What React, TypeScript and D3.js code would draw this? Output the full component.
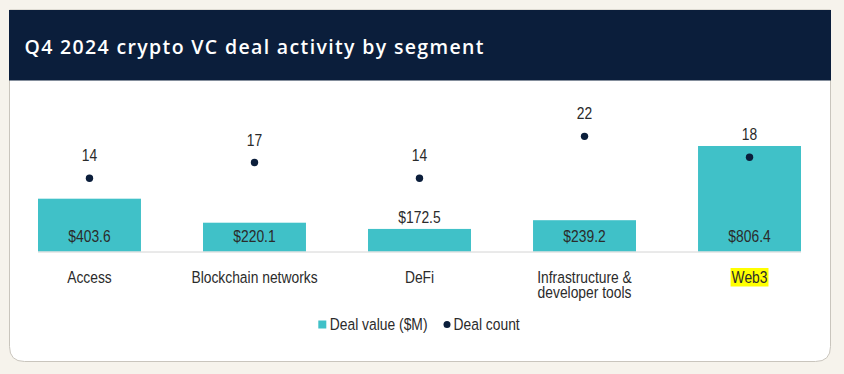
import React, { useEffect, useRef } from 'react';
import * as d3 from 'd3';

const W = 844;
const H = 374;

const segments = ['Access', 'Blockchain networks', 'DeFi', 'Infrastructure & developer tools', 'Web3'];
const segmentLines = [['Access'], ['Blockchain networks'], ['DeFi'], ['Infrastructure &', 'developer tools'], ['Web3']];
const dealValues = [403.6, 220.1, 172.5, 239.2, 806.4];
const dealCounts = [14, 17, 14, 22, 18];
const highlighted = ['Web3'];

const TITLE = 'Q4 2024 crypto VC deal activity by segment';
const LEGEND_VALUE = 'Deal value ($M)';
const LEGEND_COUNT = 'Deal count';

const BG = '#f6f3ec';
const NAVY = '#0b1e3b';
const TEAL = '#40c1c8';
const TEXT = '#2b2b2b';
const BODY_FONT = "'Liberation Sans', Arial, sans-serif";
const TITLE_FONT = "'Open Sans', 'Noto Sans', sans-serif";
// the original uses a condensed face; squeeze Liberation Sans horizontally
const SQUEEZE = 0.84;

export default function App() {
  const svgRef = useRef<SVGSVGElement>(null);

  useEffect(() => {
    if (!svgRef.current) return;
    const svg = d3.select(svgRef.current);
    svg.selectAll('*').remove();

    // page + card
    svg.append('rect').attr('width', W).attr('height', H).attr('fill', BG);

    const card = { x: 9.5, y: 10, w: 821, h: 351.5, r: 15 };
    const cardPath = `M${card.x},${card.y} H${card.x + card.w} V${card.y + card.h - card.r}
      Q${card.x + card.w},${card.y + card.h} ${card.x + card.w - card.r},${card.y + card.h}
      H${card.x + card.r} Q${card.x},${card.y + card.h} ${card.x},${card.y + card.h - card.r} Z`;
    svg.append('path').attr('d', cardPath).attr('fill', '#fff').attr('stroke', '#c9c5bd').attr('stroke-width', 1);

    svg.append('rect')
      .attr('x', 9).attr('y', 10).attr('width', 822).attr('height', 70.5)
      .attr('fill', NAVY);

    const title = svg.append('text')
      .attr('x', 24.5).attr('y', 53.5)
      .attr('fill', '#fff')
      .style('font-family', TITLE_FONT)
      .style('font-weight', 600)
      .style('font-size', '19.5px')
      .text(TITLE);
    // stretch the title to the width it has in the original
    const tw = (title.node() as SVGTextElement).getComputedTextLength();
    title.style('letter-spacing', `${(459 - tw) / (TITLE.length - 1)}px`);

    // scales
    const plotTop = 94.5;
    const baseline = 251.5;

    const x = d3.scaleBand<string>()
      .domain(segments)
      .range([38, 801])
      .paddingInner(0.376)
      .paddingOuter(0);

    const yValue = d3.scaleLinear().domain([0, 1200]).range([baseline, plotTop]);
    const yCount = d3.scaleLinear().domain([0, 30]).range([baseline, plotTop]);

    const g = svg.append('g').style('font-family', BODY_FONT).style('font-size', '16.5px');

    const label = (parent: any, px: number, py: number, lines: string[], anchor = 'middle', lh = 16) => {
      const t = parent.append('text')
        .attr('transform', `translate(${px},${py}) scale(${SQUEEZE},1)`)
        .attr('text-anchor', anchor)
        .attr('fill', TEXT);
      lines.forEach((ln, j) => {
        t.append('tspan').attr('x', 0).attr('dy', j === 0 ? 0 : lh).text(ln);
      });
      return t;
    };
    const width = (t: any) => (t.node() as SVGTextElement).getComputedTextLength() * SQUEEZE;

    // bars
    g.selectAll('rect.bar')
      .data(dealValues)
      .enter()
      .append('rect')
      .attr('class', 'bar')
      .attr('x', (_: number, i: number) => x(segments[i])!)
      .attr('y', (d: number) => yValue(d))
      .attr('width', x.bandwidth())
      .attr('height', (d: number) => baseline - yValue(d))
      .attr('fill', TEAL);

    // axis line
    g.append('line')
      .attr('x1', x.range()[0]).attr('x2', x.range()[1])
      .attr('y1', baseline + 0.5).attr('y2', baseline + 0.5)
      .attr('stroke', '#d4d4d4').attr('stroke-width', 1);

    // value labels: inside at the bottom if they fit, otherwise above the bar
    dealValues.forEach((d, i) => {
      const cx = x(segments[i])! + x.bandwidth() / 2;
      const py = baseline - yValue(d) < 26 ? yValue(d) - 6 : baseline - 10;
      label(g, cx, py, [`$${d.toFixed(1)}`]);
    });

    // count dots + labels
    g.selectAll('circle.count')
      .data(dealCounts)
      .enter()
      .append('circle')
      .attr('class', 'count')
      .attr('cx', (_: number, i: number) => x(segments[i])! + x.bandwidth() / 2)
      .attr('cy', (d: number) => yCount(d))
      .attr('r', 3.7)
      .attr('fill', NAVY);

    dealCounts.forEach((d, i) => {
      const cx = x(segments[i])! + x.bandwidth() / 2;
      label(g, cx, yCount(d) - 17, [String(d)]);
    });

    // category labels
    segments.forEach((s, i) => {
      const cx = x(s)! + x.bandwidth() / 2;
      const lines = segmentLines[i];
      if (highlighted.includes(s)) {
        const tmp = label(g, 0, 0, [lines[0]]);
        const w = width(tmp);
        tmp.remove();
        g.append('rect')
          .attr('x', cx - w / 2 - 1).attr('y', 268)
          .attr('width', w + 2).attr('height', 18.5)
          .attr('fill', '#ffff00');
      }
      label(g, cx, 282.5, lines);
    });

    // legend, centered on the card
    const legend = g.append('g');
    const lt1 = label(legend, 11.5, 329.5, [LEGEND_VALUE], 'start');
    const w1 = width(lt1);
    legend.append('rect').attr('x', 0).attr('y', 320.5).attr('width', 8).attr('height', 8).attr('fill', TEAL);
    const dotX = 11.5 + w1 + 19.5;
    legend.append('circle').attr('cx', dotX).attr('cy', 324.5).attr('r', 3.5).attr('fill', NAVY);
    const lt2 = label(legend, dotX + 6.5, 329.5, [LEGEND_COUNT], 'start');
    const total = dotX + 6.5 + width(lt2);
    legend.attr('transform', `translate(${419 - total / 2},0)`);
  }, []);

  return (
    <svg
      ref={svgRef}
      width={W}
      height={H}
      style={{ position: 'absolute', left: 0, top: 0, display: 'block' }}
    />
  );
}
